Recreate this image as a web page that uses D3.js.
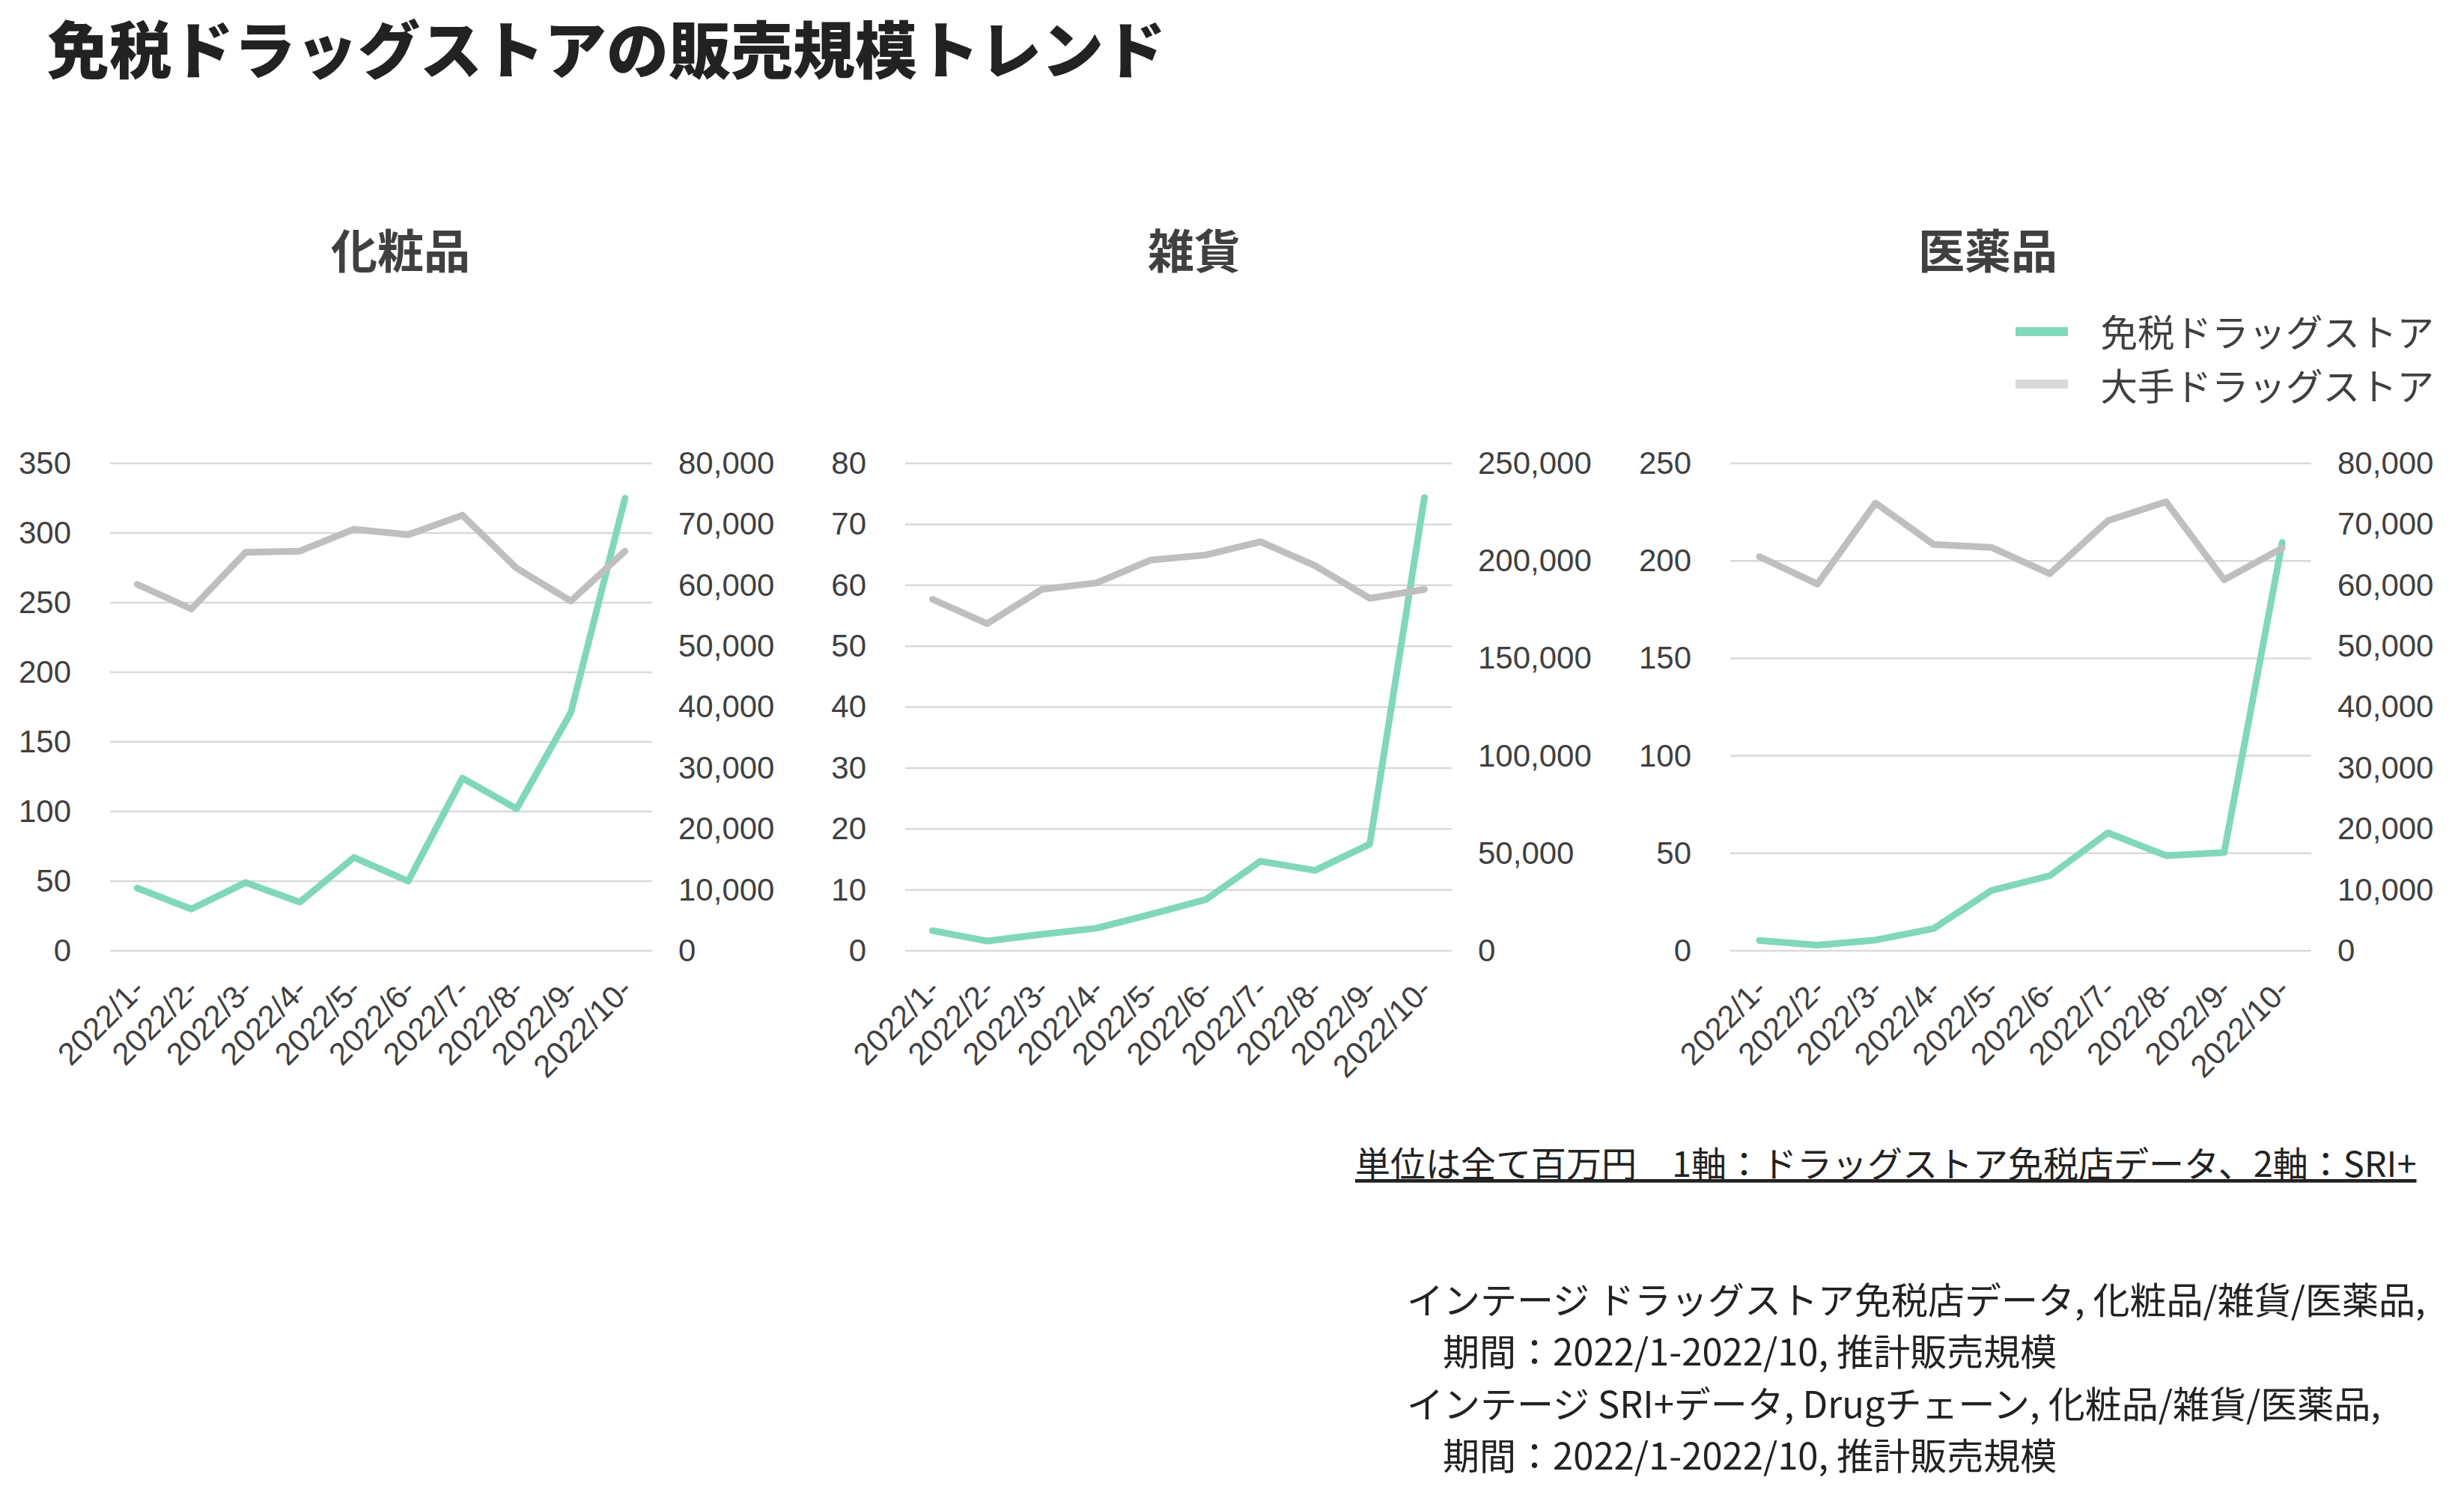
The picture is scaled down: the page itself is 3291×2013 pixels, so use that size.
<!DOCTYPE html>
<html>
<head>
<meta charset="utf-8">
<script src="https://cdn.jsdelivr.net/npm/d3@7"></script>
<style>
  body { margin: 0; background: #fff; }
  svg { display: block; }
  .jp { font-family: "Noto Sans CJK JP", "Noto Sans", sans-serif; }
  .num { font-family: "Liberation Sans", Arial, sans-serif; }
</style>
</head>
<body>
<div id="chart"></div>
<script>
// categories
const months = ["2022/1-", "2022/2-", "2022/3-", "2022/4-", "2022/5-",
  "2022/6-", "2022/7-", "2022/8-", "2022/9-", "2022/10-"];
const panelNames = ["化粧品", "雑貨", "医薬品"];
const seriesNames = ["免税ドラッグストア", "大手ドラッグストア"];

// 1軸 : ドラッグストア免税店データ (百万円)
const dutyFreeCosme = [45, 30, 49, 35, 67, 50, 124, 102, 171, 325];
const dutyFreeGoods = [3.3, 1.6, 2.7, 3.7, 6.0, 8.4, 14.7, 13.2, 17.5, 74.4];
const dutyFreeMedicine = [5.3, 2.9, 5.5, 11.4, 31, 38.5, 60.5, 48.8, 50.4, 209.5];

// 2軸 : SRI+ (百万円)
const majorCosme = [60150, 56100, 65400, 65600, 69200, 68300, 71500, 62800, 57400, 65600];
const majorGoods = [180300, 167800, 185400, 188700, 200500, 203000, 209800, 197500, 180800, 185400];
const majorMedicine = [64700, 60200, 73500, 66700, 66200, 61900, 70600, 73700, 60900, 66100];

// tick labels
const cosmeLeftTicks = [0, 50, 100, 150, 200, 250, 300, 350];
const cosmeRightTicks = [0, 10000, 20000, 30000, 40000, 50000, 60000, 70000, 80000];
const goodsLeftTicks = [0, 10, 20, 30, 40, 50, 60, 70, 80];
const goodsRightTicks = [0, 50000, 100000, 150000, 200000, 250000];
const medicineLeftTicks = [0, 50, 100, 150, 200, 250];
const medicineRightTicks = [0, 10000, 20000, 30000, 40000, 50000, 60000, 70000, 80000];

const W = 3291, H = 2013;
const green = "#80d8b9", gray = "#bfbfbf", legendGray = "#d9d9d9";
const textColor = "#404040";

// panel geometry
const plotTop = 619, plotBottom = 1270;
const panels = [
  { title: panelNames[0], left: dutyFreeCosme, right: majorCosme, lt: cosmeLeftTicks, rt: cosmeRightTicks,
    x0: 147, x1: 871, titleX: 535 },
  { title: panelNames[1], left: dutyFreeGoods, right: majorGoods, lt: goodsLeftTicks, rt: goodsRightTicks,
    x0: 1209, x1: 1939, titleX: 1595 },
  { title: panelNames[2], left: dutyFreeMedicine, right: majorMedicine, lt: medicineLeftTicks, rt: medicineRightTicks,
    x0: 2311, x1: 3087, titleX: 2655 }
];

const svg = d3.select("#chart").append("svg")
  .attr("width", W).attr("height", H)
  .attr("viewBox", `0 0 ${W} ${H}`);

// main title
svg.append("text")
  .attr("class", "jp")
  .attr("x", 63).attr("y", 98)
  .style("font-size", "83px").style("font-weight", 900)
  .style("fill", "#222")
  .text("免税ドラッグストアの販売規模トレンド");

panels.forEach(p => {
  const x = d3.scalePoint().domain(months).range([p.x0, p.x1]).padding(0.5);
  const yL = d3.scaleLinear().domain([0, d3.max(p.lt)]).range([plotBottom, plotTop]);
  const yR = d3.scaleLinear().domain([0, d3.max(p.rt)]).range([plotBottom, plotTop]);

  const g = svg.append("g");

  // panel title
  g.append("text")
    .attr("class", "jp")
    .attr("x", p.titleX).attr("y", 359)
    .attr("text-anchor", "middle")
    .style("font-size", "62px").style("font-weight", 700)
    .style("fill", textColor)
    .text(p.title);

  // gridlines
  g.selectAll(".grid").data(p.lt).join("line")
    .attr("class", "grid")
    .attr("x1", p.x0).attr("x2", p.x1)
    .attr("y1", d => yL(d)).attr("y2", d => yL(d))
    .style("stroke", "#d9d9d9").style("stroke-width", 2.5);

  // left axis
  const ax = g.append("g")
    .attr("transform", `translate(${p.x0 - 52}, 0)`)
    .call(d3.axisLeft(yL).tickValues(p.lt).tickSize(0).tickPadding(0));
  ax.select(".domain").remove();

  // right axis
  const ay = g.append("g")
    .attr("transform", `translate(${p.x1 + 35}, 0)`)
    .call(d3.axisRight(yR).tickValues(p.rt).tickSize(0).tickPadding(0).tickFormat(d3.format(",")));
  ay.select(".domain").remove();

  g.selectAll(".tick text")
    .attr("class", "num")
    .style("font-size", "42px")
    .style("fill", textColor);
  g.selectAll("g").attr("font-family", null).attr("font-size", null);

  // x labels
  g.selectAll(".xlab").data(months).join("text")
    .attr("class", "xlab num")
    .attr("transform", d => `translate(${x(d) + 2}, ${plotBottom + 44}) rotate(-45)`)
    .attr("text-anchor", "end")
    .attr("dy", "0.35em")
    .style("font-size", "42px")
    .style("fill", textColor)
    .text(d => d);

  // lines
  const lineL = d3.line().x((d, i) => x(months[i])).y(d => yL(d));
  const lineR = d3.line().x((d, i) => x(months[i])).y(d => yR(d));

  g.append("path").datum(p.left)
    .attr("d", lineL)
    .style("fill", "none").style("stroke", green).style("stroke-width", 9)
    .style("stroke-linejoin", "round").style("stroke-linecap", "round");

  g.append("path").datum(p.right)
    .attr("d", lineR)
    .style("fill", "none").style("stroke", gray).style("stroke-width", 9)
    .style("stroke-linejoin", "round").style("stroke-linecap", "round");
});

// legend
const legend = svg.append("g");
const legendColors = [green, legendGray];
const legendSwatchY = [443, 513], legendTextY = [445, 517];
seriesNames.forEach((name, i) => {
  legend.append("line")
    .attr("x1", 2692).attr("x2", 2762)
    .attr("y1", legendSwatchY[i]).attr("y2", legendSwatchY[i])
    .style("stroke", legendColors[i]).style("stroke-width", 12);
  legend.append("text")
    .attr("class", "jp")
    .attr("x", 3251).attr("y", legendTextY[i])
    .attr("dy", "0.36em")
    .attr("text-anchor", "end")
    .style("font-size", "49.5px")
    .style("fill", textColor)
    .text(name);
});

// unit note
svg.append("text")
  .attr("class", "jp")
  .attr("x", 1810).attr("y", 1572)
  .style("font-size", "47px")
  .style("fill", "#222")
  .style("text-decoration", "underline")
  .text("単位は全て百万円　1軸：ドラッグストア免税店データ、2軸：SRI+");

// source
const sourceLines = [
  "インテージ ドラッグストア免税店データ, 化粧品/雑貨/医薬品,",
  "期間：2022/1-2022/10, 推計販売規模",
  "インテージ SRI+データ, Drugチェーン, 化粧品/雑貨/医薬品,",
  "期間：2022/1-2022/10, 推計販売規模"
];
const sourceY = [1755, 1824, 1894, 1963];
sourceLines.forEach((s, i) => {
  svg.append("text")
    .attr("class", "jp")
    .attr("x", i % 2 === 0 ? 1879 : 1927)
    .attr("y", sourceY[i])
    .style("font-size", "49px")
    .style("fill", "#222")
    .text(s);
});
</script>
</body>
</html>
